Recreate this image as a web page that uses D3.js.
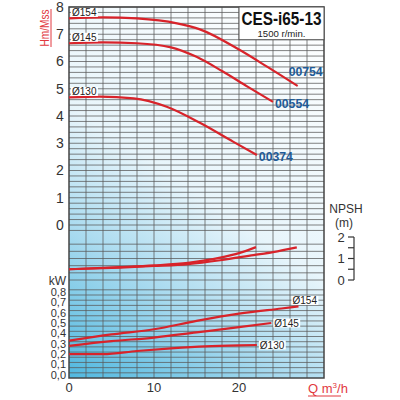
<!DOCTYPE html>
<html>
<head>
<meta charset="utf-8">
<script src="https://cdn.jsdelivr.net/npm/d3@7"></script>
<style>
  body { margin: 0; background: #fff; }
  svg { display: block; font-family: "Liberation Sans", Arial, sans-serif; }
</style>
</head>
<body>
<div id="chart"></div>
<script>
// pump curves, Q in m3/h
const impellers = ["Ø154", "Ø145", "Ø130"];
const models = ["00754", "00554", "00374"];

const headQ154 = [0, 4, 8, 12.7, 15.4, 20.1, 23.3, 26.9];
const head154 = [7.58, 7.62, 7.58, 7.4, 7.18, 6.42, 5.81, 5.1];
const headQ145 = [0, 4, 8, 12, 15, 18, 21, 24];
const head145 = [6.67, 6.7, 6.67, 6.52, 6.17, 5.65, 5.08, 4.52];
const headQ130 = [0, 3.6, 7.6, 11.5, 15.4, 19.3, 22.1];
const head130 = [4.68, 4.71, 4.65, 4.34, 3.75, 3.06, 2.57];

const npshQa = [0, 6, 10, 14, 17.8, 20, 22];
const npshA = [0.5, 0.6, 0.68, 0.8, 1.04, 1.25, 1.53];
const npshQb = [0, 6, 10, 14, 17.8, 21.7, 24, 26.8];
const npshB = [0.5, 0.58, 0.65, 0.74, 0.92, 1.16, 1.3, 1.52];

const powQ154 = [0, 5, 10, 15, 20, 25, 27];
const pow154 = [0.36, 0.42, 0.47, 0.55, 0.62, 0.67, 0.69];
const powQ145 = [0, 5, 10, 15, 20, 23.8];
const pow145 = [0.31, 0.355, 0.39, 0.44, 0.49, 0.53];
const powQ130 = [0, 4, 8, 12, 16, 20, 22.1];
const pow130 = [0.23, 0.23, 0.26, 0.285, 0.305, 0.315, 0.318];

const qTicks = [0, 10, 20];
const headTicks = [0, 1, 2, 3, 4, 5, 6, 7, 8];
const npshTicks = [0, 1, 2];
const kwTicks = [0, 0.1, 0.2, 0.3, 0.4, 0.5, 0.6, 0.7, 0.8];

const svg = d3.select("#chart")
  .append("svg")
    .attr("width", 400)
    .attr("height", 400);

const pLeft = 69, pRight = 324, pTop = 7, pBottom = 378;

const x = d3.scaleLinear().domain([0, 30]).range([pLeft, pRight]);
const yHead = d3.scaleLinear().domain([0, 8]).range([225, pTop]);
const yNpsh = d3.scaleLinear().domain([0, 2]).range([280, 237]);
const yKw = d3.scaleLinear().domain([0, 0.8]).range([pBottom, 295]);

const red = "#d8232a";
const grey = "#333";

// background
const grad = svg.append("defs").append("linearGradient")
  .attr("id", "bg")
  .attr("gradientUnits", "userSpaceOnUse")
  .attr("x1", pLeft).attr("y1", pBottom)
  .attr("x2", pRight).attr("y2", pTop);
grad.append("stop").attr("offset", 0).attr("stop-color", "#50b8df");
grad.append("stop").attr("offset", 0.27).attr("stop-color", "#a8daef");
grad.append("stop").attr("offset", 0.5).attr("stop-color", "#e8f5fb");
grad.append("stop").attr("offset", 1).attr("stop-color", "#ffffff");

svg.append("rect")
  .attr("x", pLeft).attr("y", pTop)
  .attr("width", pRight - pLeft).attr("height", pBottom - pTop)
  .attr("fill", "url(#bg)");

// grid
const hLines = d3.range(-0.2, 8.01, 0.2).map(v => yHead(v))
  .concat(d3.range(0, 6).map(i => yNpsh(i / 3)))
  .concat(d3.range(0, 0.86, 0.05).map(v => yKw(v)).filter(v => v < pBottom - 1));

const grid = svg.append("g")
  .attr("stroke", "#5a5a5a")
  .attr("stroke-opacity", 0.85)
  .attr("stroke-width", 0.9);

grid.selectAll("line.h")
  .data(hLines)
  .join("line")
    .attr("class", "h")
    .attr("x1", pLeft).attr("x2", pRight)
    .attr("y1", d => d).attr("y2", d => d);

grid.selectAll("line.v")
  .data(d3.range(2, 30, 2))
  .join("line")
    .attr("class", "v")
    .attr("x1", d => x(d)).attr("x2", d => x(d))
    .attr("y1", pTop).attr("y2", pBottom);

svg.append("rect")
  .attr("x", pLeft).attr("y", pTop)
  .attr("width", pRight - pLeft).attr("height", pBottom - pTop)
  .attr("fill", "none")
  .attr("stroke", "#444")
  .attr("stroke-width", 1.5);

// curves
const zip = (qs, vs) => qs.map((q, i) => [q, vs[i]]);
const lineFor = yScale => d3.line()
  .x(d => x(d[0]))
  .y(d => yScale(d[1]))
  .curve(d3.curveMonotoneX);

const headCurves = [zip(headQ154, head154), zip(headQ145, head145), zip(headQ130, head130)];
const npshCurves = [zip(npshQa, npshA), zip(npshQb, npshB)];
const powCurves = [zip(powQ154, pow154), zip(powQ145, pow145), zip(powQ130, pow130)];

const drawCurves = (data, yScale) => svg.append("g")
  .selectAll("path")
  .data(data)
  .join("path")
    .attr("d", lineFor(yScale))
    .attr("fill", "none")
    .attr("stroke", red)
    .attr("stroke-width", 2.2);

drawCurves(headCurves, yHead);
drawCurves(npshCurves, yNpsh);
drawCurves(powCurves, yKw);

// impeller labels with white knockout
const tag = (txt, tx, ty) => {
  const g = svg.append("g");
  const t = g.append("text")
    .text(txt)
    .attr("x", tx).attr("y", ty)
    .attr("dy", "0.35em")
    .attr("font-size", 10)
    .attr("fill", "#222");
  const b = t.node().getBBox();
  g.insert("rect", "text")
    .attr("x", b.x - 1).attr("y", b.y + 1)
    .attr("width", b.width + 2).attr("height", b.height - 2)
    .attr("fill", "#fff");
};

headCurves.forEach((c, i) => tag(impellers[i], pLeft + 3, yHead(c[0][1]) - 6));

const powEnd = powCurves.map(c => c[c.length - 1]);
tag(impellers[0], x(powEnd[0][0]) - 6, yKw(powEnd[0][1]) - 6);
tag(impellers[1], x(powEnd[1][0]) + 3, yKw(powEnd[1][1]));
tag(impellers[2], x(powEnd[2][0]) + 3, yKw(powEnd[2][1]));

// model labels at the end of the head curves
headCurves.forEach((c, i) => {
  const e = c[c.length - 1];
  svg.append("text")
    .text(models[i])
    .attr("x", x(e[0]) + (i === 0 ? -9 : 2))
    .attr("y", yHead(e[1]) + (i === 0 ? -10 : 6))
    .attr("font-size", 13)
    .attr("font-weight", "bold")
    .attr("fill", "#1f5b98")
    .attr("textLength", 34)
    .attr("lengthAdjust", "spacingAndGlyphs");
});

// title box
svg.append("rect")
  .attr("x", x(20)).attr("y", pTop)
  .attr("width", pRight - x(20)).attr("height", yHead(6.8) - pTop)
  .attr("fill", "#fff")
  .attr("stroke", "#555")
  .attr("stroke-width", 1);

svg.append("text")
  .text("CES-i65-13")
  .attr("x", (x(20) + pRight) / 2).attr("y", 24.5)
  .attr("text-anchor", "middle")
  .attr("font-size", 18)
  .attr("font-weight", "bold")
  .attr("fill", "#111")
  .attr("textLength", 80)
  .attr("lengthAdjust", "spacingAndGlyphs");

svg.append("text")
  .text("1500 r/min.")
  .attr("x", (x(20) + pRight) / 2).attr("y", 36.5)
  .attr("text-anchor", "middle")
  .attr("font-size", 9.5)
  .attr("fill", "#222")
  .attr("textLength", 48)
  .attr("lengthAdjust", "spacingAndGlyphs");

// axes labels
svg.append("g")
  .selectAll("text")
  .data(headTicks)
  .join("text")
    .text(d => d)
    .attr("x", 60).attr("y", d => yHead(d))
    .attr("dy", "0.35em")
    .attr("text-anchor", "middle")
    .attr("font-size", 14)
    .attr("fill", grey);

svg.append("g")
  .selectAll("text")
  .data(kwTicks)
  .join("text")
    .text(d => d3.format(".1f")(d).replace(".", ","))
    .attr("x", 66).attr("y", d => yKw(d) - 3)
    .attr("dy", "0.35em")
    .attr("text-anchor", "end")
    .attr("font-size", 11)
    .attr("fill", grey);

svg.append("text")
  .text("kW")
  .attr("x", 66).attr("y", yKw(0.8) - 14)
  .attr("dy", "0.35em")
  .attr("text-anchor", "end")
  .attr("font-size", 12)
  .attr("fill", grey);

svg.append("g")
  .selectAll("text")
  .data(qTicks)
  .join("text")
    .text(d => d)
    .attr("x", d => x(d)).attr("y", 387)
    .attr("dy", "0.35em")
    .attr("text-anchor", "middle")
    .attr("font-size", 13)
    .attr("fill", grey);

// NPSH bracket axis
const npshAxis = svg.append("g");
npshAxis.append("line")
  .attr("x1", 354).attr("x2", 354)
  .attr("y1", yNpsh(2)).attr("y2", yNpsh(0))
  .attr("stroke", grey).attr("stroke-width", 1.2);
npshAxis.selectAll("line.t")
  .data(d3.range(0, 2.01, 0.5))
  .join("line")
    .attr("class", "t")
    .attr("x1", 348).attr("x2", 354)
    .attr("y1", d => yNpsh(d)).attr("y2", d => yNpsh(d))
    .attr("stroke", grey).attr("stroke-width", 1.2);
npshAxis.selectAll("text")
  .data(npshTicks)
  .join("text")
    .text(d => d)
    .attr("x", 341).attr("y", d => yNpsh(d))
    .attr("dy", "0.35em")
    .attr("text-anchor", "middle")
    .attr("font-size", 13)
    .attr("fill", grey);
svg.append("text")
  .text("NPSH")
  .attr("x", 346).attr("y", 209)
  .attr("dy", "0.35em")
  .attr("text-anchor", "middle")
  .attr("font-size", 12)
  .attr("fill", grey);
svg.append("text")
  .text("(m)")
  .attr("x", 344).attr("y", 223)
  .attr("dy", "0.35em")
  .attr("text-anchor", "middle")
  .attr("font-size", 12)
  .attr("fill", grey);

// red axis titles
svg.append("text")
  .text("Hm/Mss")
  .attr("transform", "translate(49,28) rotate(-90)")
  .attr("text-anchor", "middle")
  .attr("font-size", 13)
  .attr("fill", "#e2383e")
  .attr("textLength", 37)
  .attr("lengthAdjust", "spacingAndGlyphs");
svg.append("line")
  .attr("x1", 51).attr("x2", 51)
  .attr("y1", 9).attr("y2", 47)
  .attr("stroke", "#e2383e").attr("stroke-width", 1);

const qLabel = svg.append("text")
  .attr("x", 308).attr("y", 393)
  .attr("font-size", 13)
  .attr("fill", "#e2383e");
qLabel.append("tspan").text("Q m");
qLabel.append("tspan").text("3").attr("font-size", 8).attr("dy", -5);
qLabel.append("tspan").text("/h").attr("dy", 5);
svg.append("line")
  .attr("x1", 308).attr("x2", 341)
  .attr("y1", 396).attr("y2", 396)
  .attr("stroke", "#e2383e").attr("stroke-width", 1);
</script>
</body>
</html>
